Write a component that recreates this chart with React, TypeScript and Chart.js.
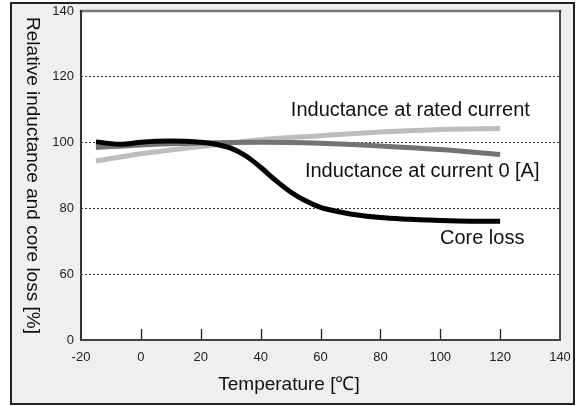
import React, { useEffect, useRef } from 'react';
import { Chart, registerables } from 'chart.js';

Chart.register(...registerables);

const FONT = "'Liberation Sans', Arial, Helvetica, sans-serif";

// Temperature [°C] axis ticks
const xTickValues = [-20, 0, 20, 40, 60, 80, 100, 120, 140];
// Broken y axis: the bottom tick stands for 0
const yTickValues = [40, 60, 80, 100, 120, 140];
const yTickLabels = ['0', '60', '80', '100', '120', '140'];

const coreLossTemps = [-15, -7, 0, 5, 10, 15, 20, 25, 30, 35, 40, 45, 50, 55, 60, 65, 70, 80, 90, 100, 110, 120];
const coreLossValues = [100.2, 99.5, 100.1, 100.4, 100.5, 100.4, 100.1, 99.5, 98.3, 96, 92.5, 88.5, 85, 82.3, 80.3, 79.2, 78.3, 77.2, 76.7, 76.3, 76.1, 76.1];

const current0Temps = [-15, 0, 20, 40, 60, 80, 100, 120];
const current0Values = [98.5, 99.3, 99.9, 100.1, 99.8, 99.0, 97.9, 96.4];

const ratedTemps = [-15, 0, 20, 40, 60, 80, 100, 120];
const ratedValues = [94.4, 96.6, 98.8, 100.9, 102.1, 103.2, 104.0, 104.3];

const seriesNames = ['Core loss', 'Inductance at current 0 [A]', 'Inductance at rated current'];

// label anchor points in data coordinates (left edge, vertical middle)
const labelTemps = [99.9, 54.8, 50.1];
const labelValues = [70.9, 91.1, 109.9];

const xTitle = 'Temperature [℃]';
const yTitle = 'Relative inductance and core loss [%]';

const zip = (xs: number[], ys: number[]) => xs.map((x, i) => ({ x, y: ys[i] }));

const decor = {
  id: 'decor',
  beforeDraw(chart: any) {
    const { ctx, chartArea: a } = chart;
    ctx.save();
    ctx.fillStyle = '#ffffff';
    ctx.fillRect(a.left, a.top, a.right - a.left, a.bottom - a.top);
    ctx.restore();
  },
  afterDraw(chart: any) {
    const { ctx, chartArea: a, scales } = chart;
    const x = scales.x;
    ctx.save();
    // inward ticks on the x axis
    ctx.strokeStyle = '#222';
    ctx.lineWidth = 1.3;
    for (const v of xTickValues) {
      if (v === x.min || v === x.max) continue;
      const px = Math.round(x.getPixelForValue(v)) + 0.5;
      ctx.beginPath();
      ctx.moveTo(px, a.bottom);
      ctx.lineTo(px, a.bottom - 11);
      ctx.stroke();
    }
    // frame
    ctx.lineCap = 'square';
    ctx.strokeStyle = '#777';
    ctx.lineWidth = 2.5;
    ctx.beginPath();
    ctx.moveTo(a.left, a.top);
    ctx.lineTo(a.right, a.top);
    ctx.stroke();
    ctx.strokeStyle = '#111';
    ctx.lineWidth = 1.5;
    ctx.beginPath();
    ctx.moveTo(a.right, a.top);
    ctx.lineTo(a.right, a.bottom);
    ctx.stroke();
    ctx.strokeStyle = '#333';
    ctx.lineWidth = 2;
    ctx.beginPath();
    ctx.moveTo(a.left, a.top);
    ctx.lineTo(a.left, a.bottom);
    ctx.stroke();
    ctx.strokeStyle = '#444';
    ctx.beginPath();
    ctx.moveTo(a.left, a.bottom);
    ctx.lineTo(a.right, a.bottom);
    ctx.stroke();

    // series labels
    ctx.fillStyle = '#111';
    ctx.font = `20px ${FONT}`;
    ctx.textAlign = 'left';
    ctx.textBaseline = 'middle';
    seriesNames.forEach((name, i) => {
      ctx.fillText(name, scales.x.getPixelForValue(labelTemps[i]), scales.y.getPixelForValue(labelValues[i]));
    });

    // axis titles
    ctx.font = `19px ${FONT}`;
    ctx.textAlign = 'center';
    ctx.fillText(xTitle, 277, 381);
    ctx.translate(20, (a.top + a.bottom) / 2);
    ctx.rotate(Math.PI / 2);
    ctx.fillText(yTitle, 0, 0);
    ctx.restore();
  },
};

export default function App() {
  const ref = useRef<HTMLCanvasElement>(null);
  useEffect(() => {
    if (!ref.current) return;
    const chart = new Chart(ref.current, {
      type: 'line',
      data: {
        datasets: [
          {
            label: seriesNames[0],
            data: zip(coreLossTemps, coreLossValues),
            borderColor: '#000000',
            borderWidth: 5,
            order: 0,
          },
          {
            label: seriesNames[1],
            data: zip(current0Temps, current0Values),
            borderColor: '#737373',
            borderWidth: 5,
            order: 1,
          },
          {
            label: seriesNames[2],
            data: zip(ratedTemps, ratedValues),
            borderColor: '#bdbdbd',
            borderWidth: 5,
            order: 2,
          },
        ],
      },
      options: {
        animation: false,
        responsive: false,
        devicePixelRatio: 1,
        layout: { padding: { left: 0, top: 7, right: 13, bottom: 0 } },
        elements: {
          point: { radius: 0, hoverRadius: 0 },
          line: { cubicInterpolationMode: 'monotone', fill: false, borderCapStyle: 'butt' },
        },
        plugins: { legend: { display: false }, tooltip: { enabled: false } },
        scales: {
          x: {
            type: 'linear',
            min: -20,
            max: 140,
            afterBuildTicks: (s: any) => {
              s.ticks = xTickValues.map((v) => ({ value: v }));
            },
            afterFit: (s: any) => {
              s.height = 63;
              s.paddingLeft = 0;
              s.paddingRight = 0;
            },
            grid: { display: false, drawTicks: false },
            border: { display: false },
            ticks: {
              padding: 10,
              color: '#222',
              font: { family: FONT, size: 13 },
              maxRotation: 0,
              autoSkip: false,
              callback: (v: any) => String(v),
            },
          },
          y: {
            type: 'linear',
            min: 40,
            max: 140,
            afterBuildTicks: (s: any) => {
              s.ticks = yTickValues.map((v) => ({ value: v }));
            },
            afterFit: (s: any) => {
              s.width = 69;
              s.paddingTop = 0;
              s.paddingBottom = 0;
            },
            grid: {
              drawTicks: false,
              color: (c: any) => (c.tick && (c.tick.value === 40 || c.tick.value === 140) ? 'rgba(0,0,0,0)' : '#333'),
              lineWidth: 1,
            },
            border: { display: false, dash: [2, 2] },
            ticks: {
              padding: 7,
              color: '#222',
              font: { family: FONT, size: 13 },
              autoSkip: false,
              callback: (v: any) => {
                const i = yTickValues.indexOf(Number(v));
                return i >= 0 ? yTickLabels[i] : '';
              },
            },
          },
        },
      },
      plugins: [decor],
    } as any);
    return () => chart.destroy();
  }, []);

  return (
    <div
      style={{
        position: 'absolute',
        left: 10,
        top: 2,
        width: 565,
        height: 403,
        boxSizing: 'border-box',
        border: '2px solid #222',
        background: '#efefef',
      }}
    >
      <canvas ref={ref} width={561} height={399} style={{ display: 'block', width: 561, height: 399 }} />
    </div>
  );
}
